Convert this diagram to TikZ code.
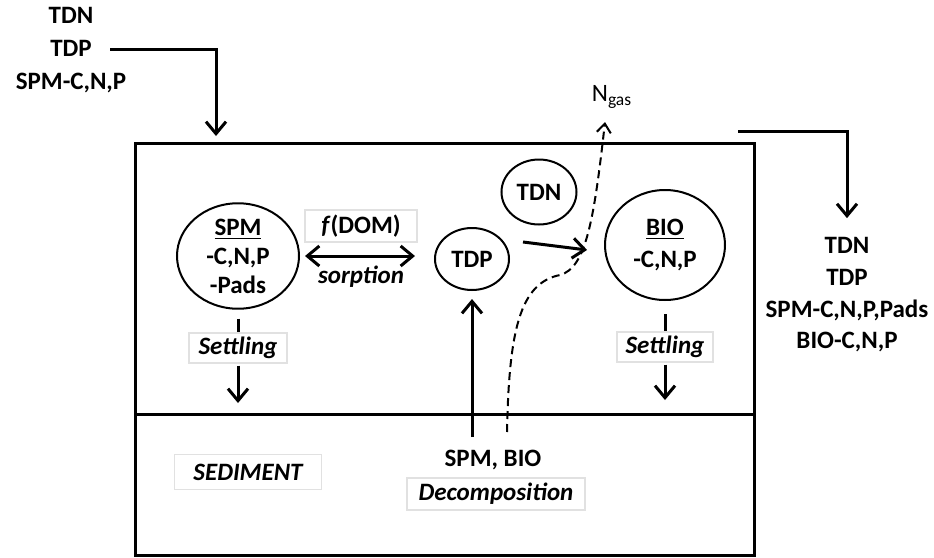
\documentclass[tikz,border=0pt]{standalone}
\usepackage{fontspec}
\setmainfont{Carlito}
\usetikzlibrary{arrows.meta, positioning, shapes.geometric}
\definecolor{FaintEdge}{RGB}{225,225,225}
\definecolor{InkColor}{RGB}{0,0,0}

\begin{document}
\begin{tikzpicture}[
        x=0.5pt, y=-0.5pt,
        % Texte de base
        base/.style={align=center, text=InkColor, font=\fontsize{12.5}{15}\selectfont\bfseries},
        % Lignes de texte empilees (entrees / sorties)
        line_lbl/.style={base, text height=9pt, text depth=2.5pt, inner ysep=2.25pt, inner xsep=2pt},
        % Reservoirs (ellipses)
        pool/.style={base, ellipse, draw=InkColor, line width=1pt, inner sep=0pt},
        % Processus (italique, cadre tres pale)
        proc/.style={base, font=\fontsize{12.5}{15}\selectfont\bfseries\itshape, draw=FaintEdge, line width=0.6pt, inner sep=0pt},
        % Traits et fleches
        frame/.style={line width=1.5pt, InkColor},
        arrow/.style={->, >={Straight Barb[length=6pt, width=10pt]}, line width=1.5pt, InkColor},
        gas_arrow/.style={->, >={Straight Barb[length=4.5pt, width=7pt]}, line width=1pt, dash pattern=on 4pt off 2.5pt, InkColor}
    ]
    \useasboundingbox (0,0) rectangle (934,558);

    % --- ENTREES (HAUT GAUCHE) ---
    \node[line_lbl] (tdnIn) at (71,17) {TDN};
    \node[line_lbl, below=0pt of tdnIn] (tdpIn) {TDP};
    \node[line_lbl, below=0pt of tdpIn] (spmIn) {SPM-C,N,P};

    % --- CADRE : COLONNE D'EAU / SEDIMENT ---
    \draw[frame] (135,143) rectangle (754,555);
    \draw[frame] (135,414) -- (754,414);

    % --- RESERVOIRS ---
    \node[pool, minimum width=61pt, minimum height=50pt, font=\fontsize{12.5}{14.5}\selectfont\bfseries] (spm) at (238,256) {\underline{SPM}\\-C,N,P\\-Pads};
    \node[pool, minimum width=37pt, minimum height=31pt] (tdp) at (472,259) {TDP};
    \node[pool, minimum width=37.5pt, minimum height=32.5pt] (tdn) at (539,192) {TDN};
    \node[pool, minimum width=60pt, minimum height=55pt, font=\fontsize{12.5}{16}\selectfont\bfseries] (bio) at (665,245) {\underline{BIO}\\-C,N,P};

    % --- SORPTION ---
    \node[proc, minimum width=56pt, minimum height=16pt, font=\fontsize{12.5}{15}\selectfont\bfseries] (fdom) at (361,226) {\textit{f}(DOM)};
    \node[proc, draw=none] (sorp) at (361,277) {sorption};
    \draw[arrow, <->, shorten <=2.5pt, shorten >=9.5pt] (spm.east) -- (spm.east -| tdp.west);

    % --- SEDIMENTATION ---
    \node[proc, minimum width=49pt, minimum height=15pt] (setL) at (238,348) {Settling};
    \node[proc, minimum width=48pt, minimum height=15pt] (setR) at (665,347) {Settling};
    \coordinate (bedL) at (238,414);
    \coordinate (bedR) at (665,414);
    \draw[frame, shorten <=4.5pt] (spm.south) -- (setL.north);
    \draw[arrow, shorten <=1pt, shorten >=5.5pt] (setL.south) -- (bedL);
    \draw[frame, shorten <=6.5pt] (bio.south) -- (setR.north);
    \draw[arrow, shorten <=1pt, shorten >=7pt] (setR.south) -- (bedR);

    % --- SEDIMENT ---
    \node[proc, minimum width=73.5pt, minimum height=17.5pt] (sed) at (248,472) {SEDIMENT};
    \node[base] (spmbio) at (493,460) {SPM, BIO};
    \node[proc, minimum width=89pt, minimum height=16pt] (decomp) at (496,494) {Decomposition};

    % --- FLUX INTERNES ---
    \coordinate (upStart) at (471,437);
    \draw[arrow, shorten >=4pt] (tdp.south |- upStart) -- (tdp.south);
    \coordinate (uptake) at (587,250);
    \draw[arrow] ([shift={(13,-17)}]tdp.east) -- (uptake);

    % --- DENITRIFICATION ---
    \node[font=\fontsize{12.5}{15}\selectfont] (ngas) at (612,97) {N\textsubscript{gas}};
    \coordinate (gasStart) at (507,432);
    \coordinate (gasEnd) at (605,122);
    \draw[gas_arrow] (gasStart) .. controls (509,330) and (520,283) .. (560,275) .. controls (586,268) and (594,220) .. (gasEnd);

    % --- ENTREE / SORTIE ---
    \coordinate (inEnd) at (216,136);
    \draw[arrow, shorten <=7pt] (tdpIn.east) -| (inEnd);

    \node[line_lbl, inner ysep=2pt] (tdnOut) at (847,247) {TDN};
    \node[line_lbl, inner ysep=2pt, below=0pt of tdnOut] (tdpOut) {TDP};
    \node[line_lbl, inner ysep=2pt, below=0pt of tdpOut] (spmOut) {SPM-C,N,P,Pads};
    \node[line_lbl, inner ysep=2pt, below=0pt of spmOut] (bioOut) {BIO-C,N,P};
    \coordinate (outStart) at (738,131);
    \draw[arrow, shorten >=6.5pt] (outStart) -| (tdnOut.north);

\end{tikzpicture}
\end{document}
